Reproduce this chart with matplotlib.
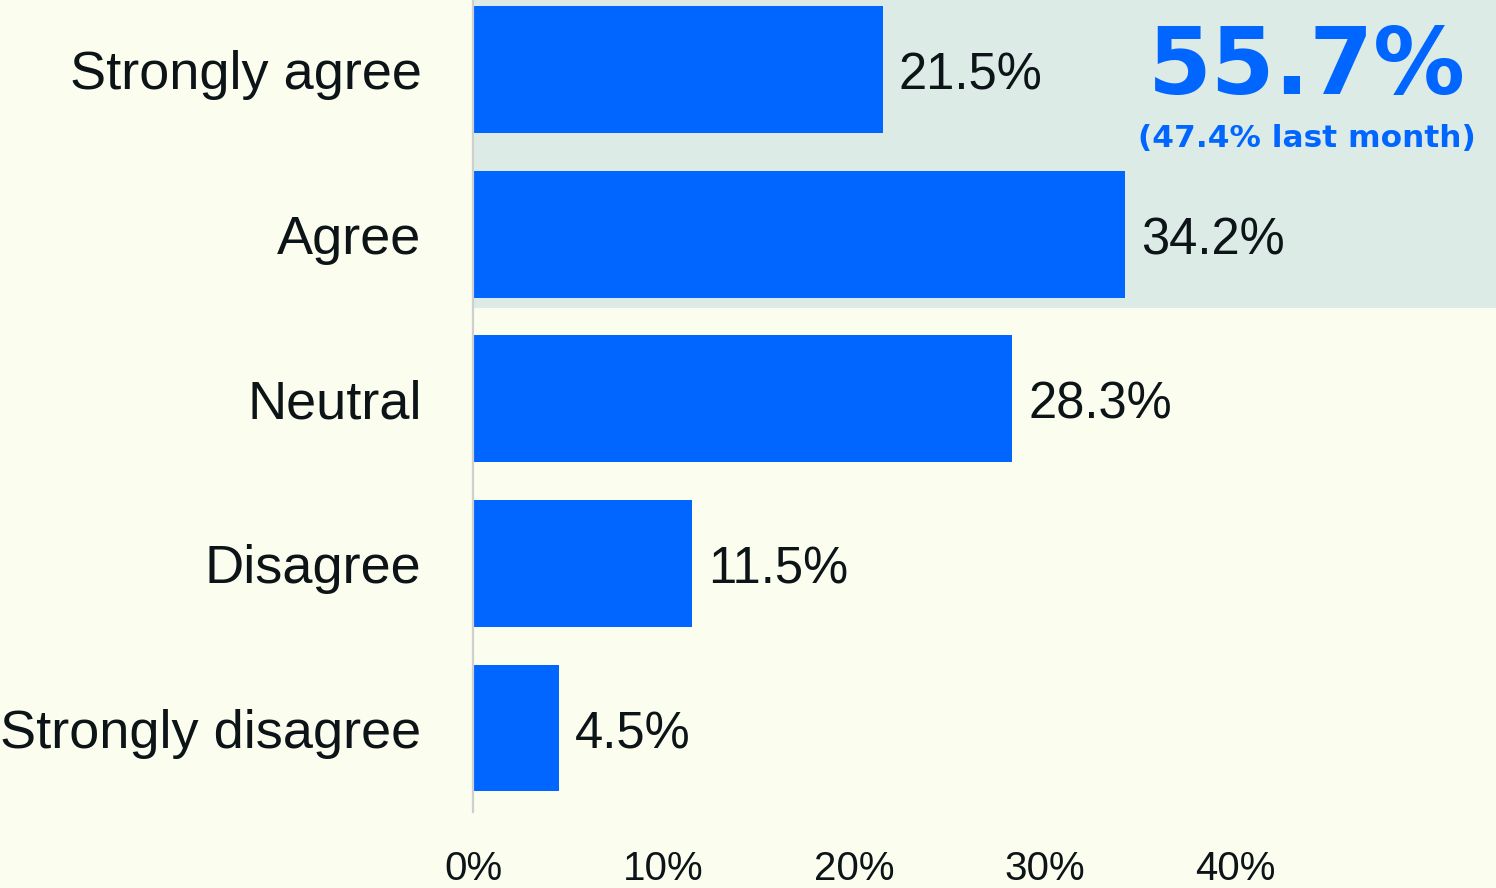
import matplotlib.pyplot as plt
from matplotlib.patches import Rectangle

categories = ["Strongly agree", "Agree", "Neutral", "Disagree", "Strongly disagree"]
values = [21.5, 34.2, 28.3, 11.5, 4.5]
ticks = [0, 10, 20, 30, 40]
tick_labels = ["0%", "10%", "20%", "30%", "40%"]
headline = "55.7%"
subline = "(47.4% last month)"

bg = "#fbfeee"
blue = "#0066ff"
band = "#dcebe5"
ink = "#0d1418"

W, H = 1496, 888
fig = plt.figure(figsize=(W / 100, H / 100), dpi=100, facecolor=bg)
ax = fig.add_axes([473 / W, 1 - 812 / H, 1 - 473 / W, 812 / H])
ax.set_facecolor(bg)

ypos = list(range(len(categories)))
ax.barh(ypos, values, height=0.77, color=blue, zorder=2)
ax.set_xlim(0, 53.7)
ax.set_ylim(4.51, -0.422)

# shaded band behind the "agree" rows
ax.add_patch(Rectangle((0, -0.422), 53.7, 1.87, facecolor=band, edgecolor="none", zorder=1))

for y, v in zip(ypos, values):
    ax.text(v + 0.85, y + 0.04, f"{v}%", va="center", ha="left", fontsize=36.5,
            family="Liberation Sans", color=ink, zorder=3)

ax.text(0.815, 0.916, headline, transform=ax.transAxes, ha="center", va="center",
        fontsize=66, fontweight="bold", family="DejaVu Sans", color=blue, zorder=3)
ax.text(0.815, 0.829, subline, transform=ax.transAxes, ha="center", va="center",
        fontsize=22.5, fontweight="bold", family="DejaVu Sans", color=blue, zorder=3)

ax.set_yticks(ypos)
ax.set_yticklabels(categories, fontsize=39, family="Liberation Sans", color=ink)
ax.set_xticks(ticks)
ax.set_xticklabels(tick_labels, fontsize=29, family="Liberation Sans", color=ink)
ax.tick_params(axis="y", length=0, pad=37)
ax.tick_params(axis="x", length=0, pad=27)

for s in ["top", "right", "bottom"]:
    ax.spines[s].set_visible(False)
ax.spines["left"].set_color("#cfcfcf")
ax.spines["left"].set_linewidth(1.6)
ax.spines["left"].set_zorder(4)

fig.savefig("out.png", dpi=100, facecolor=bg)
